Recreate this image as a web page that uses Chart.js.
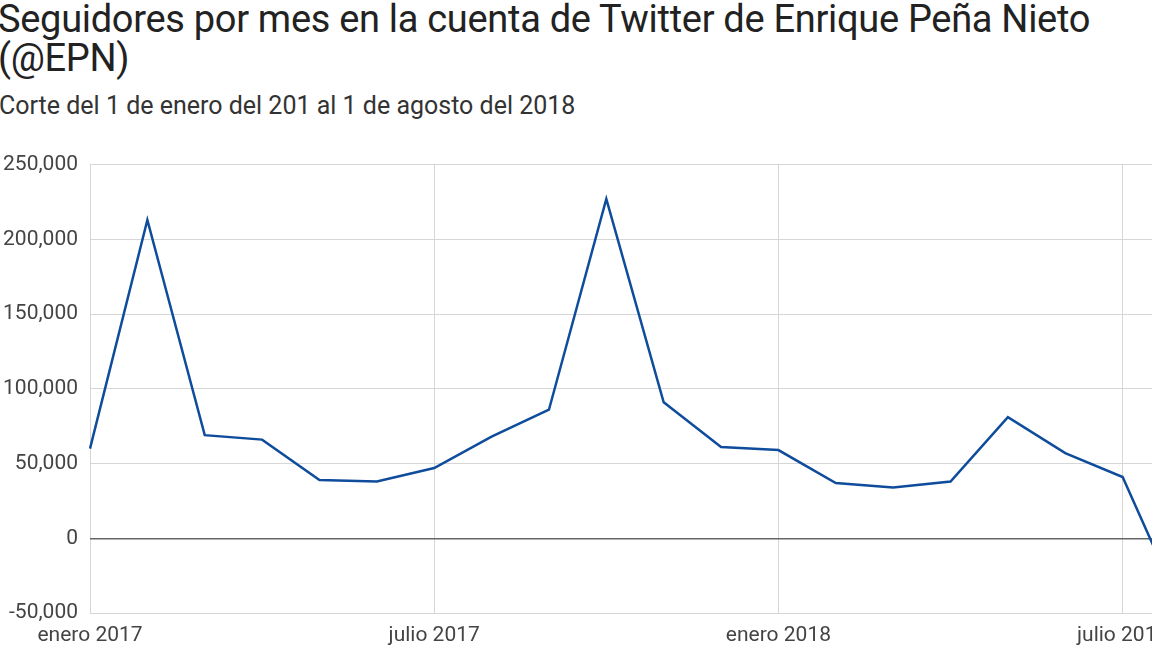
<!DOCTYPE html>
<html><head><meta charset="utf-8">
<script src="https://cdn.jsdelivr.net/npm/chart.js@4"></script>
<style>
body{margin:0;width:1152px;height:648px;overflow:hidden;background:#fff;font-family:Roboto,sans-serif;position:relative}
#t{position:absolute;left:-2px;top:0px;font-size:38px;line-height:39px;color:#222;margin:0;font-weight:normal;white-space:nowrap;letter-spacing:-0.3px}
#s{position:absolute;left:-1px;top:91px;font-size:25px;color:#333;white-space:nowrap}
#w{position:absolute;left:-20px;top:140px;width:1210px;height:508px}
</style></head><body>
<h1 id="t">Seguidores por mes en la cuenta de Twitter de Enrique Peña Nieto<br>(@EPN)</h1>
<div id="s">Corte del 1 de enero del 201 al 1 de agosto del 2018</div>
<div id="w"><canvas id="c"></canvas></div>
<script>
var months = ['enero 2017','febrero 2017','marzo 2017','abril 2017','mayo 2017','junio 2017','julio 2017','agosto 2017','septiembre 2017','octubre 2017','noviembre 2017','diciembre 2017','enero 2018','febrero 2018','marzo 2018','abril 2018','mayo 2018','junio 2018','julio 2018','agosto 2018'];
var followers = [60000,213000,69000,66000,39000,38000,47000,68000,86000,227000,91000,61000,59000,37000,34000,38000,81000,57000,41000,-45000];
var shownLabels = ['enero 2017','julio 2017','enero 2018','julio 2018'];

new Chart(document.getElementById('c'), {
  type: 'line',
  data: { labels: months, datasets: [{ data: followers, borderColor: '#0f4c9c', borderWidth: 2.5, pointRadius: 0, tension: 0, fill: false }] },
  options: {
    responsive: true, maintainAspectRatio: false, animation: false,
    layout: { padding: { top: 18, right: 5, bottom: 0, left: 0 } },
    plugins: { legend: { display: false }, tooltip: { enabled: false } },
    scales: {
      x: {
        afterFit: function(s){ s.height = 35; },
        grid: { drawTicks: false, color: function(c){ return shownLabels.indexOf(months[c.index]) >= 0 ? '#d6d6d6' : 'rgba(0,0,0,0)'; } },
        border: { display: false },
        ticks: { autoSkip: false, maxRotation: 0, padding: 10, color: '#444', font: { family: 'Roboto', size: 21 },
          callback: function(v, i){ var l = months[i]; return shownLabels.indexOf(l) >= 0 ? l : ''; } }
      },
      y: {
        min: -50000, max: 250000,
        afterFit: function(s){ s.width = 110; },
        grid: { drawTicks: false, color: function(c){ return c.tick.value === 0 ? '#666' : '#d6d6d6'; }, lineWidth: function(c){ return c.tick.value === 0 ? 1.5 : 1; } },
        border: { display: false },
        ticks: { stepSize: 50000, padding: 12, color: '#444', font: { family: 'Roboto', size: 21 },
          callback: function(v){ return v.toLocaleString('en-US'); } }
      }
    }
  }
});
</script>
</body></html>
